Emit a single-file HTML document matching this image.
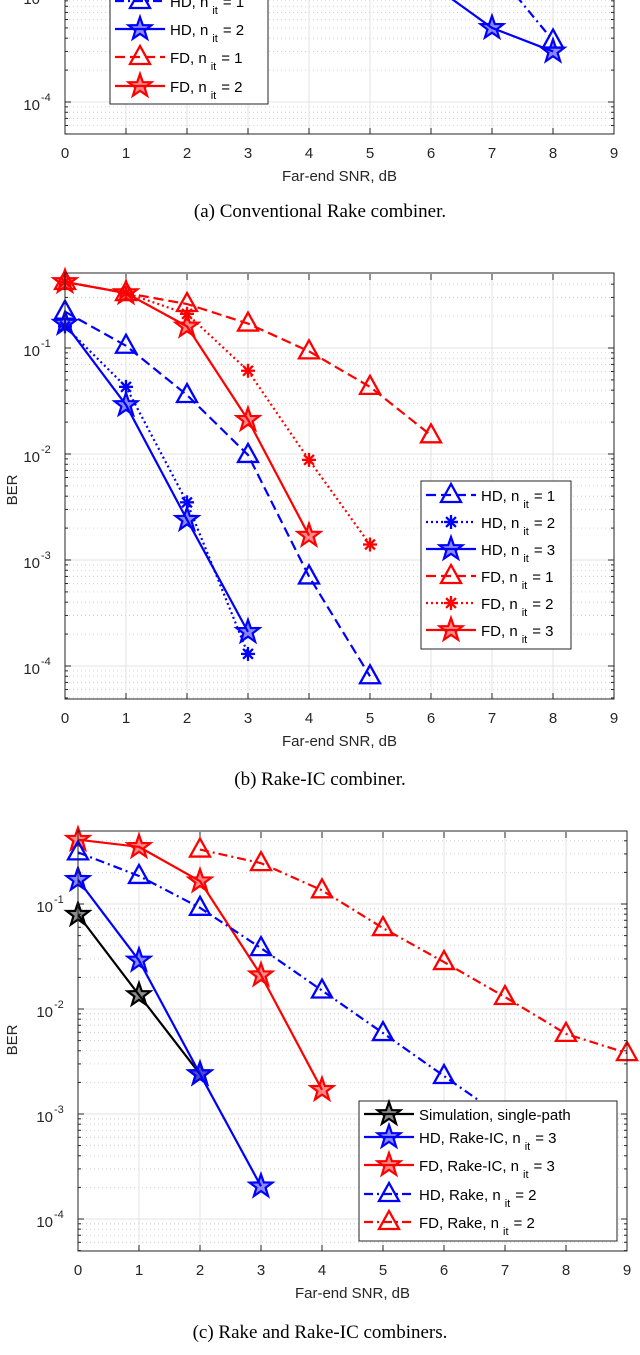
<!DOCTYPE html>
<html><head><meta charset="utf-8"><style>
body{margin:0;background:#fff;}
svg{display:block;font-family:"Liberation Sans",sans-serif;}
.cap{font-family:"Liberation Serif",serif;font-size:19px;fill:#000;}
</style></head><body>
<svg id="fig" width="640" height="1355" viewBox="0 0 640 1355" xmlns="http://www.w3.org/2000/svg"></svg>
<script>
// ---- data ----
const snrA = [0,1,2,3,4,5,6,7,8];
const aHD1 = [null,null,null,null,null,null,null,0.0019,0.00038];
const aHD2 = [null,null,null,null,null,null,0.0013,0.0005,0.0003];
const snrB = [0,1,2,3,4,5,6];
const bHD1 = [0.22,0.105,0.036,0.0098,0.0007,0.00008];
const bHD2 = [0.16,0.043,0.0035,0.00013];
const bHD3 = [0.17,0.029,0.0024,0.00021];
const bFD1 = [0.42,0.33,0.26,0.17,0.093,0.043,0.015];
const bFD2 = [0.42,0.33,0.21,0.061,0.0088,0.0014];
const bFD3 = [0.42,0.33,0.16,0.021,0.0017];
const snrC = [0,1,2,3,4,5,6,7,8,9];
const cSim = [0.079,0.0136,0.0024];
const cHDIC = [0.17,0.029,0.0024,0.000205];
const cFDIC = [0.41,0.35,0.165,0.021,0.0017];
const cHDR = [0.31,0.185,0.092,0.038,0.015,0.0059,0.0023,0.0009,0.00035];
const cFDR = [null,null,0.33,0.245,0.135,0.059,0.028,0.013,0.0058,0.0038];
const xTicks = [0,1,2,3,4,5,6,7,8,9];
const yExps = [-1,-2,-3,-4];

const NS="http://www.w3.org/2000/svg";
const fig=document.getElementById('fig');
function mk(tag,attrs,parent){const e=document.createElementNS(NS,tag);for(const k in attrs)e.setAttribute(k,attrs[k]);(parent||fig).appendChild(e);return e;}
const BLUE="#0000ff",RED="#ff0000",BLK="#000";
const DASH="10,5",DASHDOT="9,4,2,4",DOT="2,3";

function starPts(cx,cy,R){let p=[];for(let i=0;i<10;i++){const r=i%2?R*0.4:R;const a=-Math.PI/2+i*Math.PI/5;p.push((cx+r*Math.cos(a)).toFixed(1)+","+(cy+r*Math.sin(a)).toFixed(1));}return p.join(" ");}
function marker(g,type,x,y,color){
  if(type==='tri'){const m=mk('polygon',{points:`${x},${y-11} ${x-10},${y+7} ${x+10},${y+7}`,fill:'none',stroke:color,'stroke-width':2.3},g);}
  else if(type==='star'){const m=mk('polygon',{points:starPts(x,y,12),fill:color,'fill-opacity':0.45,stroke:color,'stroke-width':2.2},g);}
  else {const m=mk('g',{stroke:color,'stroke-width':2.3},g);
    for(let i=0;i<4;i++){const a=i*Math.PI/4;mk('line',{x1:x-7*Math.cos(a),y1:y-7*Math.sin(a),x2:x+7*Math.cos(a),y2:y+7*Math.sin(a)},m);}}
}
function panel(P){
  const xs=v=>P.x0+(v-0)*(P.x1-P.x0)/9;
  const ys=v=>P.yRef+(-1-Math.log10(v))*P.dec;
  const g=mk('g',{});
  const clipId=P.name+'-clip';
  const cp=mk('clipPath',{id:clipId},g);mk('rect',{x:P.x0,y:Math.max(P.top,0),width:P.x1-P.x0,height:P.bot-Math.max(P.top,0)},cp);
  const grid=mk('g',{'clip-path':`url(#${clipId})`},g);
  for(let e=-5;e<=0;e++){for(let m=1;m<10;m++){const v=m*Math.pow(10,e);const y=ys(v);if(y<P.top||y>P.bot)continue;
    if(m===1)mk('line',{x1:P.x0,x2:P.x1,y1:y,y2:y,stroke:'#e3e3e3','stroke-width':1},grid);
    else mk('line',{x1:P.x0,x2:P.x1,y1:y,y2:y,stroke:'#c8c8c8','stroke-width':0.8,'stroke-dasharray':'1,3'},grid);
    const tl=m===1?6:3;
    mk('line',{x1:P.x0,x2:P.x0+tl,y1:y,y2:y,stroke:'#262626'},g);mk('line',{x1:P.x1,x2:P.x1-tl,y1:y,y2:y,stroke:'#262626'},g);}}
  xTicks.forEach(t=>{const x=xs(t);mk('line',{x1:x,x2:x,y1:Math.max(P.top,0),y2:P.bot,stroke:'#e3e3e3'},grid);
    mk('line',{x1:x,x2:x,y1:P.bot,y2:P.bot-6,stroke:'#262626'},g);
    if(P.top>0)mk('line',{x1:x,x2:x,y1:P.top,y2:P.top+6,stroke:'#262626'},g);
    const tx=mk('text',{x:x,y:P.bot+24,'text-anchor':'middle','font-size':15,fill:'#262626'},g);tx.textContent=t;
    });
  yExps.forEach(e=>{const y=ys(Math.pow(10,e));if(y<P.top-10||y>P.bot)return;
    const tx=mk('text',{x:P.x0-25,y:y+8,'text-anchor':'end','font-size':15,fill:'#262626'},g);tx.textContent='10';
    
    const sp=mk('text',{x:P.x0-24,y:y-1,'font-size':11,fill:'#262626'},g);sp.textContent=String(e);});
  const sg=mk('g',{'clip-path':`url(#${clipId}-s)`},g);
  const cp2=mk('clipPath',{id:clipId+'-s'},g);mk('rect',{x:P.x0-15,y:Math.max(P.top,0)-15,width:P.x1-P.x0+30,height:P.bot-Math.max(P.top,0)+30},cp2);
  P.series.forEach(s=>{
    const sgi=mk('g',{},sg);
    const pts=[];s.y.forEach((v,i)=>{if(v!=null)pts.push([xs(P.snr[i]),ys(v)]);});
    mk('polyline',{points:pts.map(p=>p.join(',')).join(' '),fill:'none',stroke:s.c,'stroke-width':2.2,'stroke-dasharray':s.d||'none'},sgi);
    pts.forEach(p=>marker(sgi,s.m,p[0],p[1],s.c));
  });
  const bx=mk('path',{d:`M${P.x0},${Math.max(P.top,0)-1}V${P.bot}H${P.x1}V${Math.max(P.top,0)-1}`+(P.top>0?`Z`:''),fill:'none',stroke:'#262626','stroke-width':1},g);
  
  const L=P.leg;const lg=mk('g',{},g);
  mk('rect',{x:L.x,y:L.y,width:L.w,height:L.h,fill:'#fff',stroke:'#262626'},lg);
  P.series.forEach((s,i)=>{if(L.rows[i]==null)return;const y=L.rows[i];const e=mk('g',{},lg);
    
    mk('line',{x1:L.x+5,x2:L.x+55,y1:y,y2:y,stroke:s.c,'stroke-width':2.2,'stroke-dasharray':s.d||'none'},e);
    marker(e,s.m,L.x+30,y,s.c);
    const t=mk('text',{x:L.x+60,y:y+6,'font-size':15,fill:'#000'},e);
    t.innerHTML=s.label+(s.sub?`, n<tspan dx="4" dy="7" font-size="11">it</tspan><tspan dx="5" dy="-7">= ${s.sub}</tspan>`:'');
  });
  const xl=mk('text',{x:(P.x0+P.x1)/2,y:P.bot+47,'text-anchor':'middle','font-size':15,fill:'#262626'},g);xl.textContent='Far-end SNR, dB';
  
  if(P.ylab!=null){const yl=mk('text',{x:0,y:0,transform:`translate(17,${P.ylab}) rotate(-90)`,'text-anchor':'middle','font-size':15,fill:'#262626'},g);yl.textContent='BER';
    }
  const cap=mk('text',{x:320,y:P.cap,'text-anchor':'middle',class:'cap'},g);cap.textContent=P.caption;
  
}
panel({name:'panel-a',x0:65,x1:614,top:-400,bot:134,yRef:-4-2*106,dec:106,snr:snrA,ylab:null,cap:217,caption:'(a) Conventional Rake combiner.',
  series:[{id:'a-hd-n1',y:aHD1,c:BLUE,d:DASHDOT,m:'tri',label:'HD',sub:'1'},{id:'a-hd-n2',y:aHD2,c:BLUE,m:'star',label:'HD',sub:'2'},
          {id:'a-fd-n1',y:[],c:RED,d:DASH,m:'tri',label:'FD',sub:'1'},{id:'a-fd-n2',y:[],c:RED,m:'star',label:'FD',sub:'2'}],
  leg:{x:110,y:-40,w:158,h:144,rows:[1,29,57,86]}});
panel({name:'panel-b',x0:65,x1:614,top:274,bot:699,yRef:348,dec:106,snr:snrB,ylab:490,cap:785,caption:'(b) Rake-IC combiner.',
  series:[{id:'b-hd-n1',y:bHD1,c:BLUE,d:DASH,m:'tri',label:'HD',sub:'1'},{id:'b-hd-n2',y:bHD2,c:BLUE,d:DOT,m:'ast',label:'HD',sub:'2'},
          {id:'b-hd-n3',y:bHD3,c:BLUE,m:'star',label:'HD',sub:'3'},{id:'b-fd-n1',y:bFD1,c:RED,d:DASH,m:'tri',label:'FD',sub:'1'},
          {id:'b-fd-n2',y:bFD2,c:RED,d:DOT,m:'ast',label:'FD',sub:'2'},{id:'b-fd-n3',y:bFD3,c:RED,m:'star',label:'FD',sub:'3'}],
  leg:{x:421,y:481,w:150,h:168,rows:[495,522,549,576,603,630]}});
panel({name:'panel-c',x0:78,x1:627,top:832,bot:1251,yRef:904,dec:105,snr:snrC,ylab:1040,cap:1338,caption:'(c) Rake and Rake-IC combiners.',
  series:[{id:'c-sim',y:cSim,c:BLK,m:'star',label:'Simulation, single-path'},{id:'c-hd-rakeic',y:cHDIC,c:BLUE,m:'star',label:'HD, Rake-IC',sub:'3'},
          {id:'c-fd-rakeic',y:cFDIC,c:RED,m:'star',label:'FD, Rake-IC',sub:'3'},{id:'c-hd-rake',y:cHDR,c:BLUE,d:DASHDOT,m:'tri',label:'HD, Rake',sub:'2'},
          {id:'c-fd-rake',y:cFDR,c:RED,d:DASHDOT,m:'tri',label:'FD, Rake',sub:'2'}],
  leg:{x:359,y:1101,w:258,h:140,rows:[1114,1137,1165,1194,1222]}});
</script>
</body></html>
